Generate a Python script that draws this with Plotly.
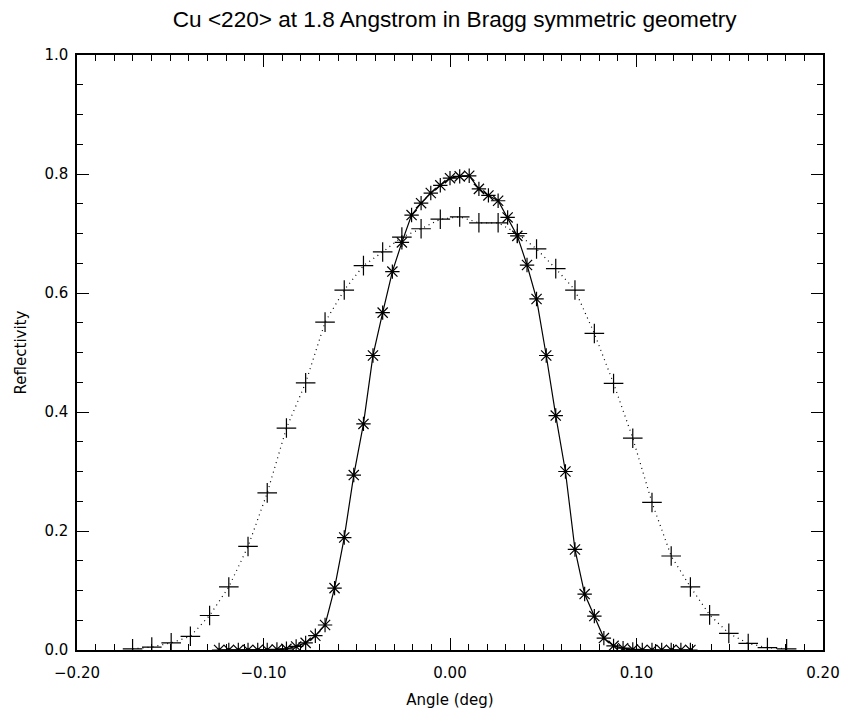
import plotly.graph_objects as go

# Broad curve (plus markers, dotted line)
angle_plus = [-0.1702, -0.1599, -0.1495, -0.1392, -0.1289, -0.1186, -0.1083, -0.0980,
              -0.0877, -0.0774, -0.0670, -0.0567, -0.0464, -0.0361, -0.0258, -0.0155,
              -0.0052, 0.0052, 0.0155, 0.0258, 0.0361, 0.0464, 0.0567, 0.0670, 0.0774,
              0.0877, 0.0980, 0.1083, 0.1186, 0.1289, 0.1392, 0.1495, 0.1599, 0.1702, 0.1805]
refl_plus = [0.002, 0.005, 0.012, 0.023, 0.058, 0.106, 0.174, 0.264,
             0.373, 0.449, 0.551, 0.605, 0.646, 0.669, 0.694, 0.708,
             0.724, 0.728, 0.718, 0.718, 0.700, 0.674, 0.641, 0.605, 0.532,
             0.448, 0.356, 0.248, 0.158, 0.106, 0.059, 0.028, 0.011, 0.004, 0.002]

# Narrow curve (asterisk markers, solid line)
angle_star = [-0.1238, -0.1186, -0.1135, -0.1083, -0.1031, -0.0980, -0.0928, -0.0877,
              -0.0825, -0.0774, -0.0722, -0.0670, -0.0619, -0.0567, -0.0516, -0.0464,
              -0.0413, -0.0361, -0.0309, -0.0258, -0.0206, -0.0155, -0.0103, -0.0052,
              0.0000, 0.0052, 0.0103, 0.0155, 0.0206, 0.0258, 0.0309, 0.0361, 0.0413,
              0.0464, 0.0516, 0.0567, 0.0619, 0.0670, 0.0722, 0.0774, 0.0825, 0.0877,
              0.0928, 0.0980, 0.1031, 0.1083, 0.1135, 0.1186, 0.1238, 0.1289]
refl_star = [0.000, 0.000, 0.000, 0.000, 0.000, 0.000, 0.001, 0.002,
             0.006, 0.012, 0.024, 0.042, 0.104, 0.189, 0.294, 0.380,
             0.495, 0.567, 0.636, 0.685, 0.731, 0.751, 0.768, 0.781,
             0.793, 0.796, 0.797, 0.775, 0.764, 0.755, 0.727, 0.696, 0.647,
             0.590, 0.495, 0.394, 0.300, 0.169, 0.094, 0.057, 0.020, 0.007,
             0.003, 0.001, 0.000, 0.000, 0.000, 0.000, 0.000, 0.000]

title_text = "Cu &lt;220&gt; at 1.8 Angstrom in Bragg symmetric geometry"
x_title = "Angle (deg)"
y_title = "Reflectivity"
x_ticks = [-0.2, -0.1, 0.0, 0.1, 0.2]
x_ticklabels = ["\u22120.20", "\u22120.10", "0.00", "0.10", "0.20"]
y_ticks = [0.0, 0.2, 0.4, 0.6, 0.8, 1.0]
y_ticklabels = ["0.0", "0.2", "0.4", "0.6", "0.8", "1.0"]

fig = go.Figure()
fig.add_trace(go.Scatter(
    x=angle_plus, y=refl_plus, mode="lines+markers",
    line=dict(color="black", width=1.2, dash="1px,4px"),
    marker=dict(symbol="cross-thin-open", size=14, color="black",
                line=dict(color="black", width=1.2)),
    cliponaxis=True, showlegend=False))
fig.add_trace(go.Scatter(
    x=angle_star, y=refl_star, mode="lines+markers",
    line=dict(color="black", width=1.2),
    marker=dict(symbol="asterisk-open", size=12, color="black",
                line=dict(color="black", width=1.2)),
    cliponaxis=True, showlegend=False))

axis_common = dict(showgrid=False, zeroline=False, showline=True, linecolor="black",
                   linewidth=1.5, mirror="allticks", ticks="inside", tickcolor="black",
                   tickwidth=1, ticklen=12,
                   tickfont=dict(family="DejaVu Sans", size=15, color="black"))

fig.update_xaxes(range=[-0.2, 0.2], tickvals=x_ticks, ticktext=x_ticklabels,
                 ticklabelstandoff=8,
                 minor=dict(dtick=0.01, ticks="inside", ticklen=6, tickcolor="black", tickwidth=1),
                 title=dict(text=x_title, font=dict(family="DejaVu Sans", size=15, color="black"),
                            standoff=14),
                 **axis_common)
fig.update_yaxes(range=[0, 1.0], tickvals=y_ticks, ticktext=y_ticklabels,
                 ticklabelstandoff=4,
                 minor=dict(dtick=0.05, ticks="inside", ticklen=6, tickcolor="black", tickwidth=1),
                 title=dict(text=y_title, font=dict(family="DejaVu Sans", size=15, color="black"),
                            standoff=14),
                 **axis_common)

fig.update_layout(
    width=866, height=719,
    margin=dict(l=77, r=43, t=55, b=69),
    paper_bgcolor="white", plot_bgcolor="white",
    title=dict(text=title_text, x=0.525, xanchor="center", y=0.985, yanchor="top",
               font=dict(family="Liberation Sans", size=22.6, color="black")),
)

fig.write_html("out.html")
